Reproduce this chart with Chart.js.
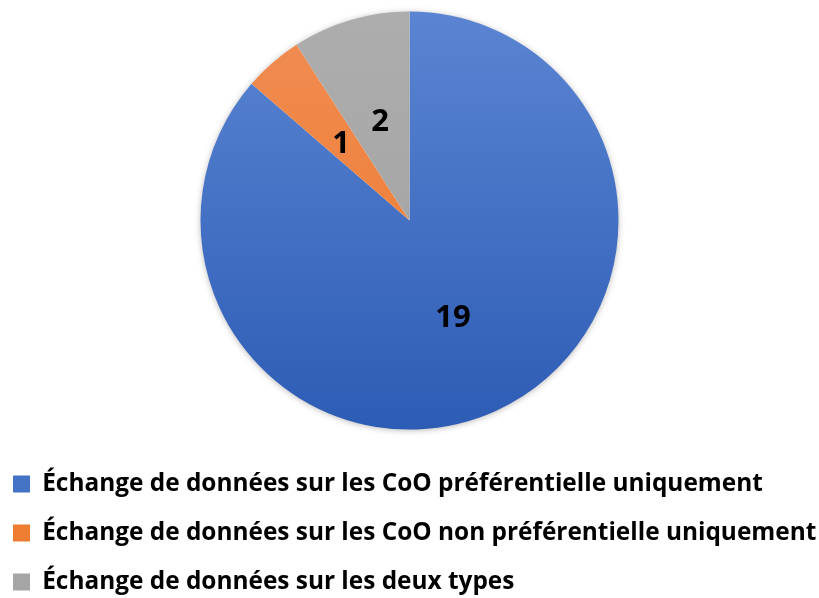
<!DOCTYPE html>
<html>
<head>
<meta charset="utf-8">
<script src="https://cdn.jsdelivr.net/npm/chart.js@4"></script>
<style>
  html, body { margin: 0; padding: 0; background: #fff; overflow: hidden; }
  #wrap { width: 819px; height: 604px; margin-top: -6px; }
</style>
</head>
<body>
<div id="wrap"><canvas id="pie"></canvas></div>
<script>
// ─── DATA ──────────────────────────────────────────────
const categories = [
  'Échange de données sur les CoO préférentielle uniquement',
  'Échange de données sur les CoO non préférentielle uniquement',
  'Échange de données sur les deux types'
];
const counts = [19, 1, 2];
// top / bottom colours of each slice gradient
const topColors = ['#5B85D2', '#F08C52', '#ADADAD'];
const bottomColors = ['#2D5CB5', '#EE7A2C', '#A0A0A0'];
const legendColors = ['#4472C4', '#ED7D31', '#A5A5A5'];

const R = 209;
const FONT = '"Open Sans", "Noto Sans", sans-serif';
const LEGEND_SIZE = 24.4;

function sliceFill(ctx) {
  const chart = ctx.chart;
  const area = chart.chartArea;
  if (!area) return legendColors[ctx.dataIndex];
  const cy = (area.top + area.bottom) / 2;
  const g = chart.ctx.createLinearGradient(0, cy - R, 0, cy + R);
  g.addColorStop(0, topColors[ctx.dataIndex]);
  g.addColorStop(1, bottomColors[ctx.dataIndex]);
  return g;
}

// soft shadow under the whole pie
const pieShadow = {
  id: 'pieShadow',
  beforeDatasetsDraw(chart) {
    const arc = chart.getDatasetMeta(0).data[0];
    if (!arc) return;
    const { x, y, outerRadius } = arc.getProps(['x', 'y', 'outerRadius'], true);
    const c = chart.ctx;
    c.save();
    c.shadowColor = 'rgba(0,0,0,0.35)';
    c.shadowBlur = 7;
    c.shadowOffsetY = 1;
    c.beginPath();
    c.arc(x, y, outerRadius - 1, 0, Math.PI * 2);
    c.fillStyle = '#fff';
    c.fill();
    c.restore();
  }
};

// value labels inside each slice (digits centred on half radius)
const sliceLabels = {
  id: 'sliceLabels',
  afterDatasetsDraw(chart) {
    const c = chart.ctx;
    const meta = chart.getDatasetMeta(0);
    const size = 31;
    c.save();
    c.font = 'bold ' + size + 'px ' + FONT;
    c.fillStyle = '#000';
    c.textAlign = 'center';
    c.textBaseline = 'alphabetic';
    meta.data.forEach((arc, i) => {
      const p = arc.getProps(['x', 'y', 'startAngle', 'endAngle', 'outerRadius'], true);
      const mid = (p.startAngle + p.endAngle) / 2;
      const d = p.outerRadius * 0.5;
      c.fillText(String(counts[i]), p.x + Math.cos(mid) * d, p.y + Math.sin(mid) * d + size * 0.36);
    });
    c.restore();
  }
};

new Chart(document.getElementById('pie'), {
  type: 'pie',
  data: {
    labels: categories,
    datasets: [{
      data: counts,
      backgroundColor: sliceFill,
      borderWidth: 0,
      radius: R
    }]
  },
  options: {
    responsive: true,
    maintainAspectRatio: false,
    animation: false,
    layout: { padding: { top: 0, bottom: -6.2, left: -11.6, right: -11.6 } },
    plugins: {
      tooltip: { enabled: false },
      legend: {
        position: 'bottom',
        align: 'start',
        labels: {
          boxWidth: 17,
          boxHeight: 17,
          padding: 49 - LEGEND_SIZE,
          color: '#000',
          font: { family: FONT, size: LEGEND_SIZE, weight: 'bold' },
          generateLabels: chart => categories.map((t, i) => ({
            text: t, fillStyle: legendColors[i], strokeStyle: legendColors[i], lineWidth: 0, index: i, hidden: false
          }))
        }
      }
    }
  },
  plugins: [pieShadow, sliceLabels]
});
</script>
</body>
</html>
